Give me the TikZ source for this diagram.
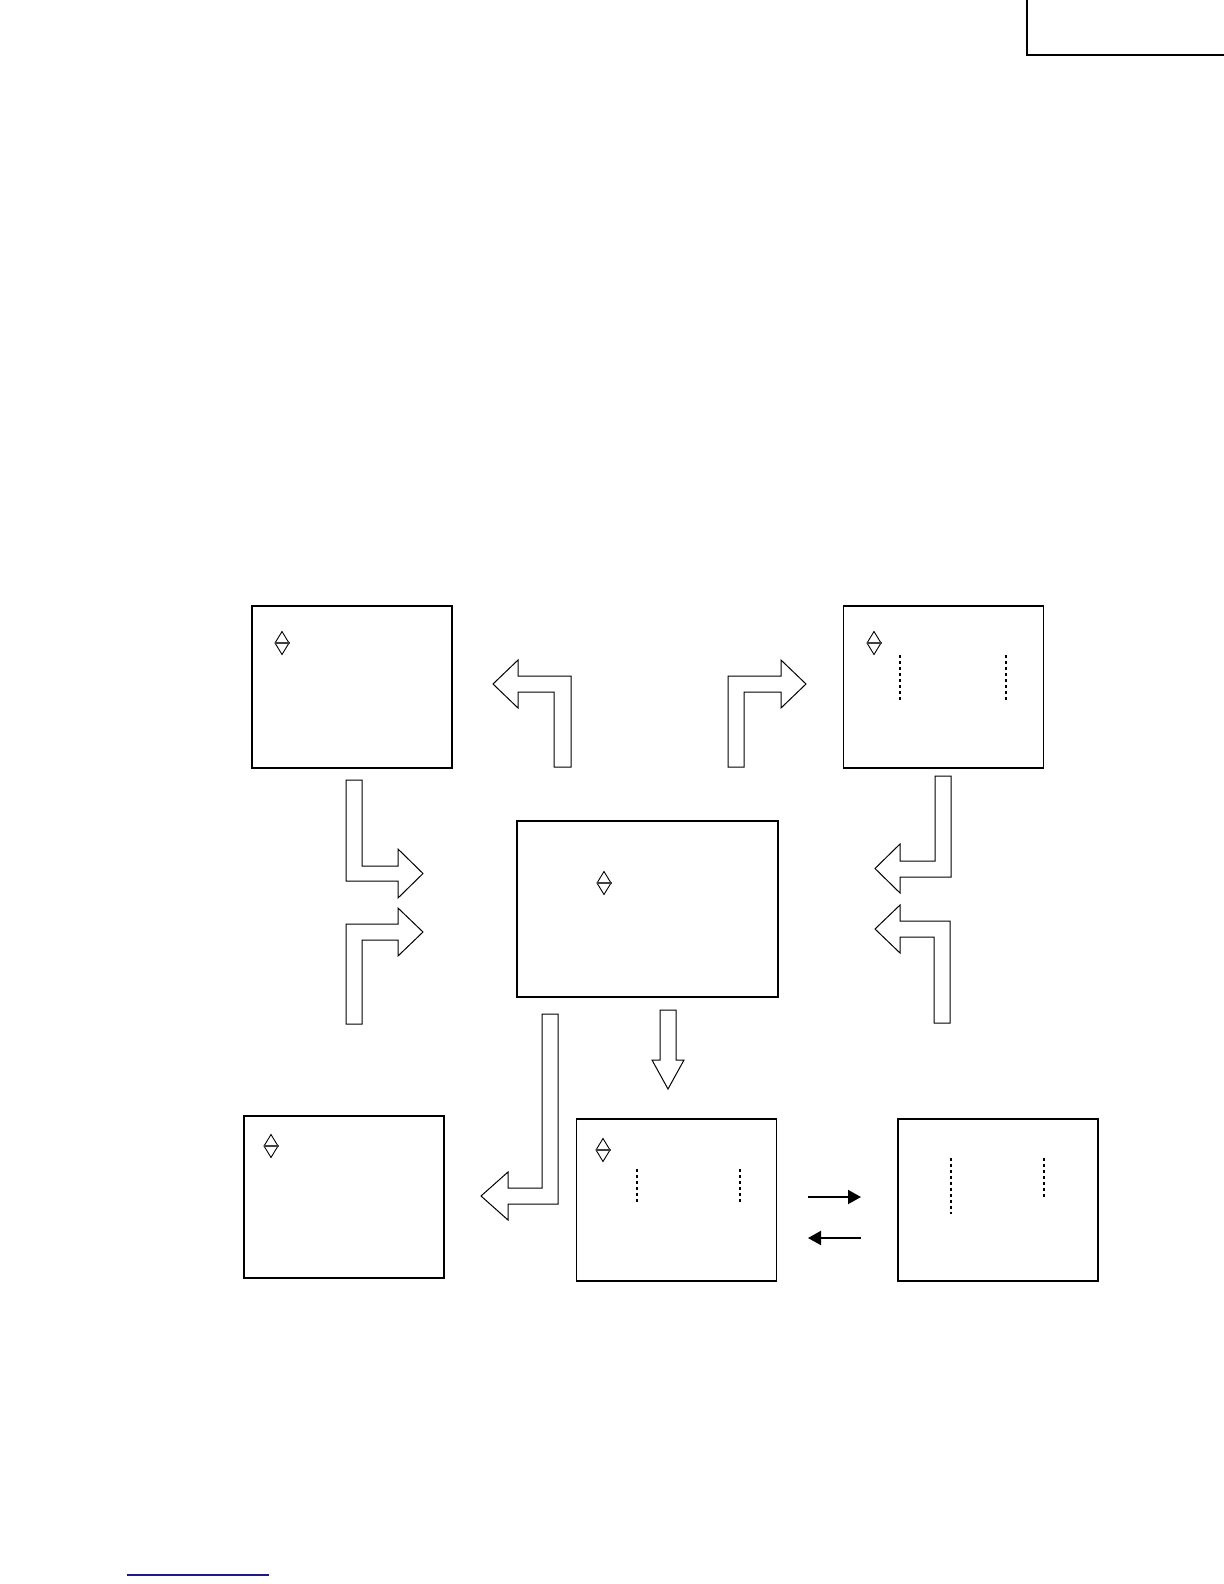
\documentclass[tikz,border=0pt]{standalone}
\usetikzlibrary{arrows.meta}
\definecolor{navyline}{RGB}{26,26,140}
\begin{document}
\begin{tikzpicture}[x=0.5bp,y=-0.5bp,
  screen/.style={draw,line width=0.6pt,rectangle,inner sep=0pt,minimum width=100bp,minimum height=81bp},
  blockarrow/.style={draw,line width=0.5pt,line join=miter},
  dashmark/.style={line width=0.55pt,dash pattern=on 1.5bp off 1.5bp},
  flowarrow/.style={line width=1pt,-{Triangle[length=6.5bp,width=7bp]}},
  updown/.pic={
    \draw[line width=0.45pt] (0,-11.5) -- (7,0) -- (0,11.5) -- (-7,0) -- cycle;
    \draw[line width=1pt,black!75] (-7.5,0) -- (7.5,0);
  }]
\useasboundingbox (0,0) rectangle (1224,1584);
% corner frame
\draw[line width=1.3pt] (1027,-2) -- (1027,55) -- (1226,55);
% screens
\node[screen] (tl) at (352,687) {};
\node[screen] (tr) at (943.5,687) {};
\node[screen,minimum width=130.5bp,minimum height=88bp] (ctr) at (647.5,909) {};
\node[screen] (bl) at (344,1197) {};
\node[screen] (bm) at (676.5,1200) {};
\node[screen] (br) at (998,1200) {};
% up/down symbols
\pic at (282,643) {updown};
\pic at (874,643) {updown};
\pic at (604,883) {updown};
\pic at (271,1146) {updown};
\pic at (603,1150) {updown};
% dashed marks
\draw[dashmark] (900,655) -- (900,700);
\draw[dashmark] (1006,655) -- (1006,700);
\draw[dashmark] (637,1169) -- (637,1202);
\draw[dashmark] (740,1169) -- (740,1202);
\draw[dashmark] (951,1158) -- (951,1214);
\draw[dashmark] (1044,1158) -- (1044,1197);
% block arrows
\draw[blockarrow] (571,767) -- (571,676) -- (518,676) -- (518,660) -- (493,684) -- (518,708) -- (518,692) -- (554,692) -- (554,767) -- cycle;
\draw[blockarrow] (728,767) -- (728,676) -- (781,676) -- (781,660) -- (806,684) -- (781,708) -- (781,692) -- (744,692) -- (744,767) -- cycle;
\draw[blockarrow] (346,780) -- (362,780) -- (362,866) -- (398,866) -- (398,849) -- (423,873.5) -- (398,898) -- (398,881) -- (346,881) -- cycle;
\draw[blockarrow] (346,1024) -- (346,924) -- (398,924) -- (398,908) -- (423,932) -- (398,956) -- (398,940) -- (362,940) -- (362,1024) -- cycle;
\draw[blockarrow] (951,776) -- (935,776) -- (935,861) -- (900,861) -- (900,844) -- (875,868.5) -- (900,893) -- (900,877) -- (951,877) -- cycle;
\draw[blockarrow] (934,1023) -- (934,937) -- (900,937) -- (900,953) -- (875,929) -- (900,905) -- (900,921) -- (950,921) -- (950,1023) -- cycle;
\draw[blockarrow] (660,1010) -- (676,1010) -- (676,1060) -- (684,1060) -- (668,1089) -- (652,1060) -- (660,1060) -- cycle;
\draw[blockarrow] (558,1014) -- (558,1204) -- (508,1204) -- (508,1220) -- (481,1196) -- (508,1172) -- (508,1188) -- (542,1188) -- (542,1014) -- cycle;
% flow arrows between bottom screens
\coordinate (fa1) at (808,1197);
\coordinate (fa2) at (861,1197);
\coordinate (fb1) at (861,1238);
\coordinate (fb2) at (808,1238);
\draw[flowarrow] (fa1) -- (fa2);
\draw[flowarrow] (fb1) -- (fb2);
% footer line
\draw[navyline,line width=0.8pt] (127,1575) -- (269,1575);
\end{tikzpicture}
\end{document}
